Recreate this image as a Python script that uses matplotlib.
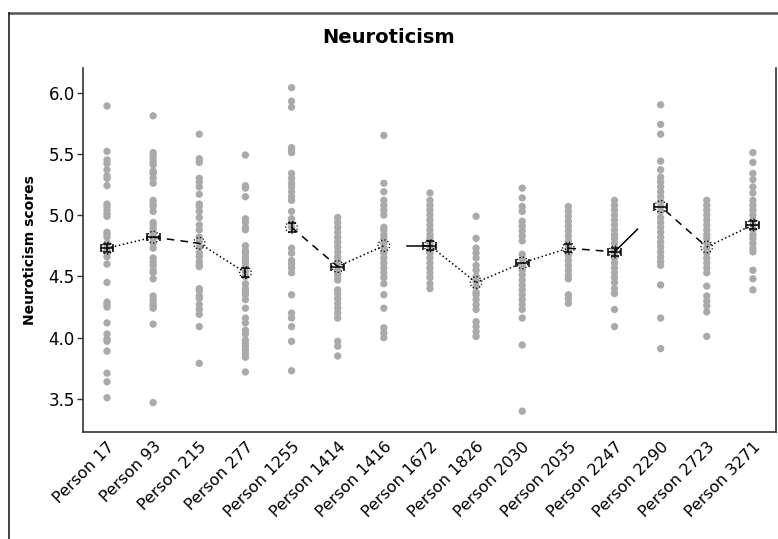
import numpy as np
import matplotlib.pyplot as plt
from matplotlib.lines import Line2D

# ====== DATA ======
persons = ["Person 17", "Person 93", "Person 215", "Person 277", "Person 1255",
           "Person 1414", "Person 1416", "Person 1672", "Person 1826", "Person 2030",
           "Person 2035", "Person 2247", "Person 2290", "Person 2723", "Person 3271"]

p17 = [5.89, 5.52, 5.45, 5.42, 5.37, 5.32, 5.30, 5.24, 5.09, 5.07, 5.04, 5.01, 4.99,
       4.86, 4.84, 4.82, 4.77, 4.74, 4.71, 4.69, 4.66, 4.60, 4.45, 4.29, 4.27, 4.25,
       4.12, 4.03, 3.99, 3.97, 3.89, 3.71, 3.64, 3.51]
p93 = [5.81, 5.51, 5.49, 5.46, 5.43, 5.41, 5.36, 5.34, 5.30, 5.26, 5.12, 5.09, 5.07,
       5.03, 4.94, 4.92, 4.89, 4.86, 4.84, 4.81, 4.77, 4.73, 4.65, 4.62, 4.59, 4.55,
       4.53, 4.48, 4.34, 4.31, 4.28, 4.26, 4.24, 4.11, 3.47]
p215 = [5.66, 5.46, 5.43, 5.30, 5.27, 5.23, 5.17, 5.09, 5.07, 5.03, 4.98, 4.92, 4.88,
        4.82, 4.78, 4.74, 4.69, 4.66, 4.62, 4.59, 4.58, 4.40, 4.38, 4.34, 4.32, 4.27,
        4.23, 4.19, 4.09, 3.79]
p277 = [5.49, 5.24, 5.22, 5.15, 4.97, 4.94, 4.90, 4.88, 4.75, 4.71, 4.69, 4.66, 4.63,
        4.61, 4.58, 4.54, 4.50, 4.44, 4.40, 4.37, 4.35, 4.31, 4.24, 4.16, 4.12, 4.06,
        4.03, 3.98, 3.95, 3.93, 3.90, 3.87, 3.84, 3.72]
p1255 = [6.04, 5.93, 5.88, 5.55, 5.53, 5.51, 5.34, 5.30, 5.26, 5.23, 5.19, 5.15, 5.12,
         5.03, 4.97, 4.94, 4.90, 4.73, 4.69, 4.63, 4.60, 4.57, 4.53, 4.35, 4.20, 4.16,
         4.09, 3.97, 3.73]
p1414 = [4.98, 4.94, 4.90, 4.86, 4.82, 4.78, 4.74, 4.70, 4.66, 4.63, 4.61, 4.55, 4.52,
         4.50, 4.47, 4.39, 4.36, 4.32, 4.28, 4.24, 4.20, 4.16, 3.97, 3.93, 3.85]
p1416 = [5.65, 5.26, 5.19, 5.12, 5.08, 5.04, 5.00, 4.90, 4.88, 4.84, 4.81, 4.77, 4.73,
         4.69, 4.65, 4.61, 4.57, 4.53, 4.49, 4.44, 4.35, 4.24, 4.08, 4.04, 4.00]
p1672 = [5.18, 5.12, 5.08, 5.04, 5.00, 4.96, 4.92, 4.88, 4.84, 4.81, 4.77, 4.73, 4.69,
         4.65, 4.61, 4.57, 4.53, 4.49, 4.44, 4.40]
p1826 = [4.99, 4.81, 4.73, 4.69, 4.65, 4.59, 4.55, 4.50, 4.46, 4.42, 4.37, 4.35, 4.31,
         4.27, 4.23, 4.13, 4.09, 4.05, 4.01]
p2030 = [5.22, 5.14, 5.07, 5.03, 4.95, 4.91, 4.87, 4.83, 4.79, 4.68, 4.64, 4.59, 4.55,
         4.51, 4.47, 4.43, 4.39, 4.35, 4.31, 4.27, 4.23, 4.16, 3.94, 3.40]
p2035 = [5.07, 5.03, 4.99, 4.95, 4.91, 4.87, 4.83, 4.79, 4.75, 4.71, 4.67, 4.63, 4.59,
         4.55, 4.51, 4.48, 4.35, 4.32, 4.28]
p2247 = [5.12, 5.08, 5.04, 5.00, 4.96, 4.92, 4.88, 4.84, 4.81, 4.77, 4.73, 4.69, 4.65,
         4.61, 4.57, 4.53, 4.49, 4.45, 4.40, 4.36, 4.23, 4.09]
p2290 = [5.90, 5.74, 5.66, 5.44, 5.37, 5.31, 5.27, 5.23, 5.19, 5.15, 5.11, 5.07, 5.03,
         4.98, 4.94, 4.90, 4.86, 4.82, 4.78, 4.74, 4.70, 4.66, 4.62, 4.59, 4.43, 4.16, 3.91]
p2723 = [5.12, 5.08, 5.04, 5.00, 4.96, 4.92, 4.88, 4.84, 4.81, 4.77, 4.73, 4.69, 4.65,
         4.61, 4.57, 4.53, 4.42, 4.34, 4.30, 4.26, 4.21, 4.01]
p3271 = [5.51, 5.43, 5.34, 5.29, 5.23, 5.18, 5.12, 5.08, 5.04, 5.00, 4.96, 4.92, 4.88,
         4.84, 4.81, 4.77, 4.73, 4.70, 4.55, 4.48, 4.39]

scores = [p17, p93, p215, p277, p1255, p1414, p1416, p1672, p1826, p2030,
          p2035, p2247, p2290, p2723, p3271]

means = [4.73, 4.82, 4.77, 4.53, 4.90, 4.58, 4.75, 4.75, 4.45, 4.61,
         4.73, 4.70, 5.07, 4.74, 4.92]

# kind of mark drawn on each mean: '+' both bars, 'h' horizontal, 'v' vertical, 'o' circle only
mean_marks = ["+", "h", "o", "v", "v", "h", "o", "+", "o", "h", "v", "+", "h", "o", "+"]

# connecting segments between neighbours: (style, start fraction, end fraction) or None
segments = [(":", 0, 1), ((0, (5, 4)), 0, 1), (":", 0, 1), None, ((0, (5, 4)), 0, 1),
            (":", 0, 1), ("-", 0.5, 1), (":", 0, 1), (":", 0, 1), (":", 0, 1),
            ((0, (5, 4)), 0, 1), ("-", 0, 0.5), ((0, (5, 4)), 0.1, 1), (":", 0, 1)]

ticked = ["Person 17", "Person 277", "Person 1255", "Person 1672",
          "Person 2035", "Person 2247", "Person 3271"]

# ====== PLOT ======
fig = plt.figure(figsize=(7.78, 5.39), dpi=100)
ax = fig.add_axes([0.1067, 0.1985, 0.8907, 0.6753])

x = np.arange(len(persons))
for i, vals in enumerate(scores):
    ax.scatter(np.full(len(vals), x[i]), vals, s=28, color="#aaaaaa",
               edgecolors="none", zorder=2)

for i, seg in enumerate(segments):
    if seg is None:
        continue
    ls, f0, f1 = seg
    x0 = x[i] + f0 * (x[i + 1] - x[i])
    x1 = x[i] + f1 * (x[i + 1] - x[i])
    y0 = means[i] + f0 * (means[i + 1] - means[i])
    y1 = means[i] + f1 * (means[i + 1] - means[i])
    ax.plot([x0, x1], [y0, y1], color="black", lw=1.1, linestyle=ls, zorder=3)

ax.scatter(x, means, s=70, facecolors="none", edgecolors="black",
           linewidths=0.9, linestyle=":", zorder=4)
for i, m in enumerate(mean_marks):
    if m in ("+", "v"):
        ax.errorbar(x[i], means[i], yerr=0.035, fmt="none", ecolor="black",
                    elinewidth=1.1, capsize=3, capthick=1.1, zorder=5)
    if m in ("+", "h"):
        ax.errorbar(x[i], means[i], xerr=0.14, fmt="none", ecolor="black",
                    elinewidth=1.1, capsize=3, capthick=1.1, zorder=5)

ax.set_xlim(-0.52, 14.5)
ax.set_ylim(3.23, 6.2)
ax.set_yticks([3.5, 4.0, 4.5, 5.0, 5.5, 6.0])
ax.set_yticklabels(["3.5", "4.0", "4.5", "5.0", "5.5", "6.0"], fontsize=12)
ax.set_xticks(x)
ax.set_xticklabels(persons, rotation=45, ha="right", rotation_mode="anchor", fontsize=11.5)
ax.tick_params(axis="x", length=0, pad=5)
ax.set_xticks([persons.index(p) for p in ticked], minor=True)
ax.tick_params(axis="x", which="minor", length=5, width=1, color="#333333")
ax.tick_params(axis="y", length=4, width=1, color="#333333", pad=2)

ax.spines["top"].set_visible(False)
for s in ("left", "bottom", "right"):
    ax.spines[s].set_linewidth(1.2)
    ax.spines[s].set_color("#333333")

ax.set_ylabel("Neuroticism scores", fontsize=10, fontweight="bold", labelpad=8)
fig.text(0.5, 0.93, "Neuroticism", ha="center", va="center",
         fontsize=14, fontweight="bold")

# outer frame (top and left edges)
fig.add_artist(Line2D([0.0116, 1.0], [0.9759, 0.9759], transform=fig.transFigure,
                      color="#555555", lw=1.8))
fig.add_artist(Line2D([0.0116, 0.0116], [0.0, 0.9759], transform=fig.transFigure,
                      color="#222222", lw=1.2))

fig.savefig("out.png", dpi=100)
